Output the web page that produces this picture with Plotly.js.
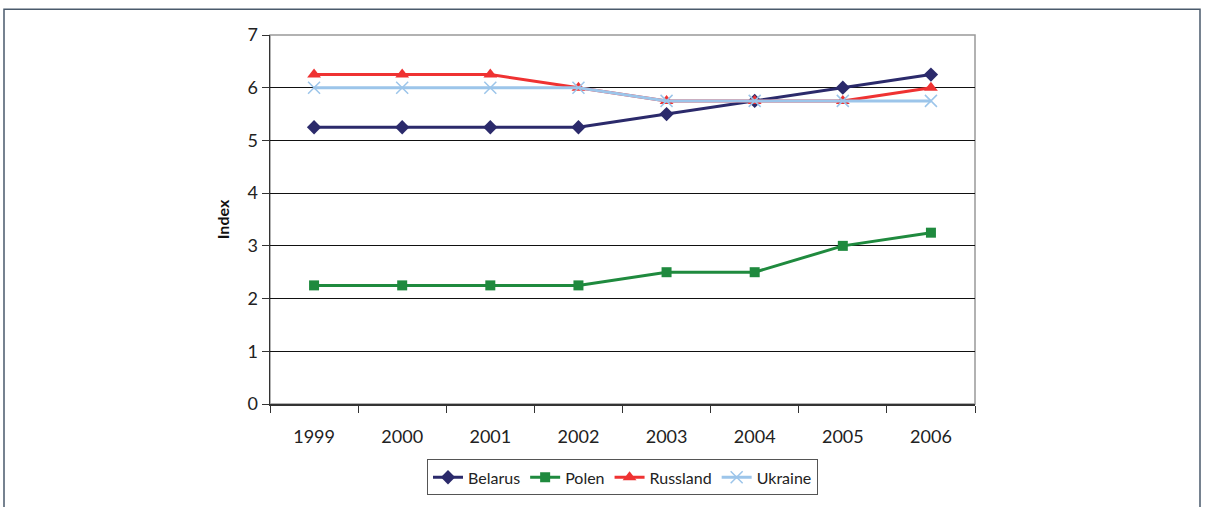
<!DOCTYPE html>
<html>
<head>
<meta charset="utf-8">
<script src="https://cdn.plot.ly/plotly-3.0.1.min.js"></script>
<style>
html,body{margin:0;padding:0;background:#fff;}
#chart{width:1211px;height:507px;}
</style>
</head>
<body>
<div id="chart"></div>
<script>
const years = ['1999','2000','2001','2002','2003','2004','2005','2006'];
const belarus = [5.25,5.25,5.25,5.25,5.5,5.75,6,6.25];
const polen = [2.25,2.25,2.25,2.25,2.5,2.5,3,3.25];
const russland = [6.25,6.25,6.25,6,5.75,5.75,5.75,6];
const ukraine = [6,6,6,6,5.75,5.75,5.75,5.75];
const yTicks = [0,1,2,3,4,5,6,7];

const FONT = 'Lato, "Open Sans", sans-serif';

const traces = [
  {name:'Belarus', x:years, y:belarus, mode:'lines+markers',
   line:{color:'#2b2a6b', width:3}, marker:{symbol:'diamond', size:11, color:'#2b2a6b'}},
  {name:'Polen', x:years, y:polen, mode:'lines+markers',
   line:{color:'#1f8a3e', width:3}, marker:{symbol:'square', size:10, color:'#1f8a3e'}},
  {name:'Russland', x:years, y:russland, mode:'lines+markers',
   line:{color:'#ef3232', width:3}, marker:{symbol:'triangle-up', size:12, color:'#ef3232'}},
  {name:'Ukraine', x:years, y:ukraine, mode:'lines+markers',
   line:{color:'#9cc5ea', width:3}, marker:{symbol:'x-thin', size:12, color:'#9cc5ea', line:{color:'#9cc5ea', width:1.5}}}
];

const layout = {
  width:1211, height:507,
  margin:{l:270, r:236, t:35, b:100},
  paper_bgcolor:'#fff', plot_bgcolor:'#fff',
  font:{family:FONT, size:17, color:'#222'},
  showlegend:true,
  legend:{orientation:'h', x:0.5, xanchor:'center', y:-0.15, yanchor:'top',
    bordercolor:'#555', borderwidth:1, font:{size:16, color:'#222'},
    itemwidth:30, tracegroupgap:0},
  xaxis:{type:'category', range:[-0.5,7.5], tickson:'boundaries',
    ticks:'outside', ticklen:7, tickcolor:'#333', showline:true, linecolor:'#333', linewidth:1.5,
    showgrid:false, zeroline:false, fixedrange:true, automargin:false,
    ticklabelstandoff:16,
    tickfont:{size:18}},
  yaxis:{range:[0,7], tickvals:yTicks, ticktext:yTicks.map(String),
    ticks:'outside', ticklen:7, tickcolor:'#333', showline:true, linecolor:'#333', linewidth:1.5,
    showgrid:true, gridcolor:'#111', gridwidth:1, zeroline:false, automargin:false,
    tickfont:{size:18},
    title:{text:'<b>Index</b>', font:{size:16, color:'#111'}, standoff:14}},
  shapes:[
    {type:'rect', xref:'paper', yref:'paper', x0:0, x1:1, y0:0, y1:1,
     line:{color:'#999', width:1.5}, layer:'below'},
    {type:'rect', xref:'paper', yref:'paper', x0:(4-270)/705, x1:(1200-270)/705,
     y0:(407-530)/372, y1:(407-9)/372, line:{color:'#4a5a6c', width:1.5}, layer:'below'}
  ]
};

Plotly.newPlot('chart', traces, layout, {displayModeBar:false, staticPlot:true});
</script>
</body>
</html>
